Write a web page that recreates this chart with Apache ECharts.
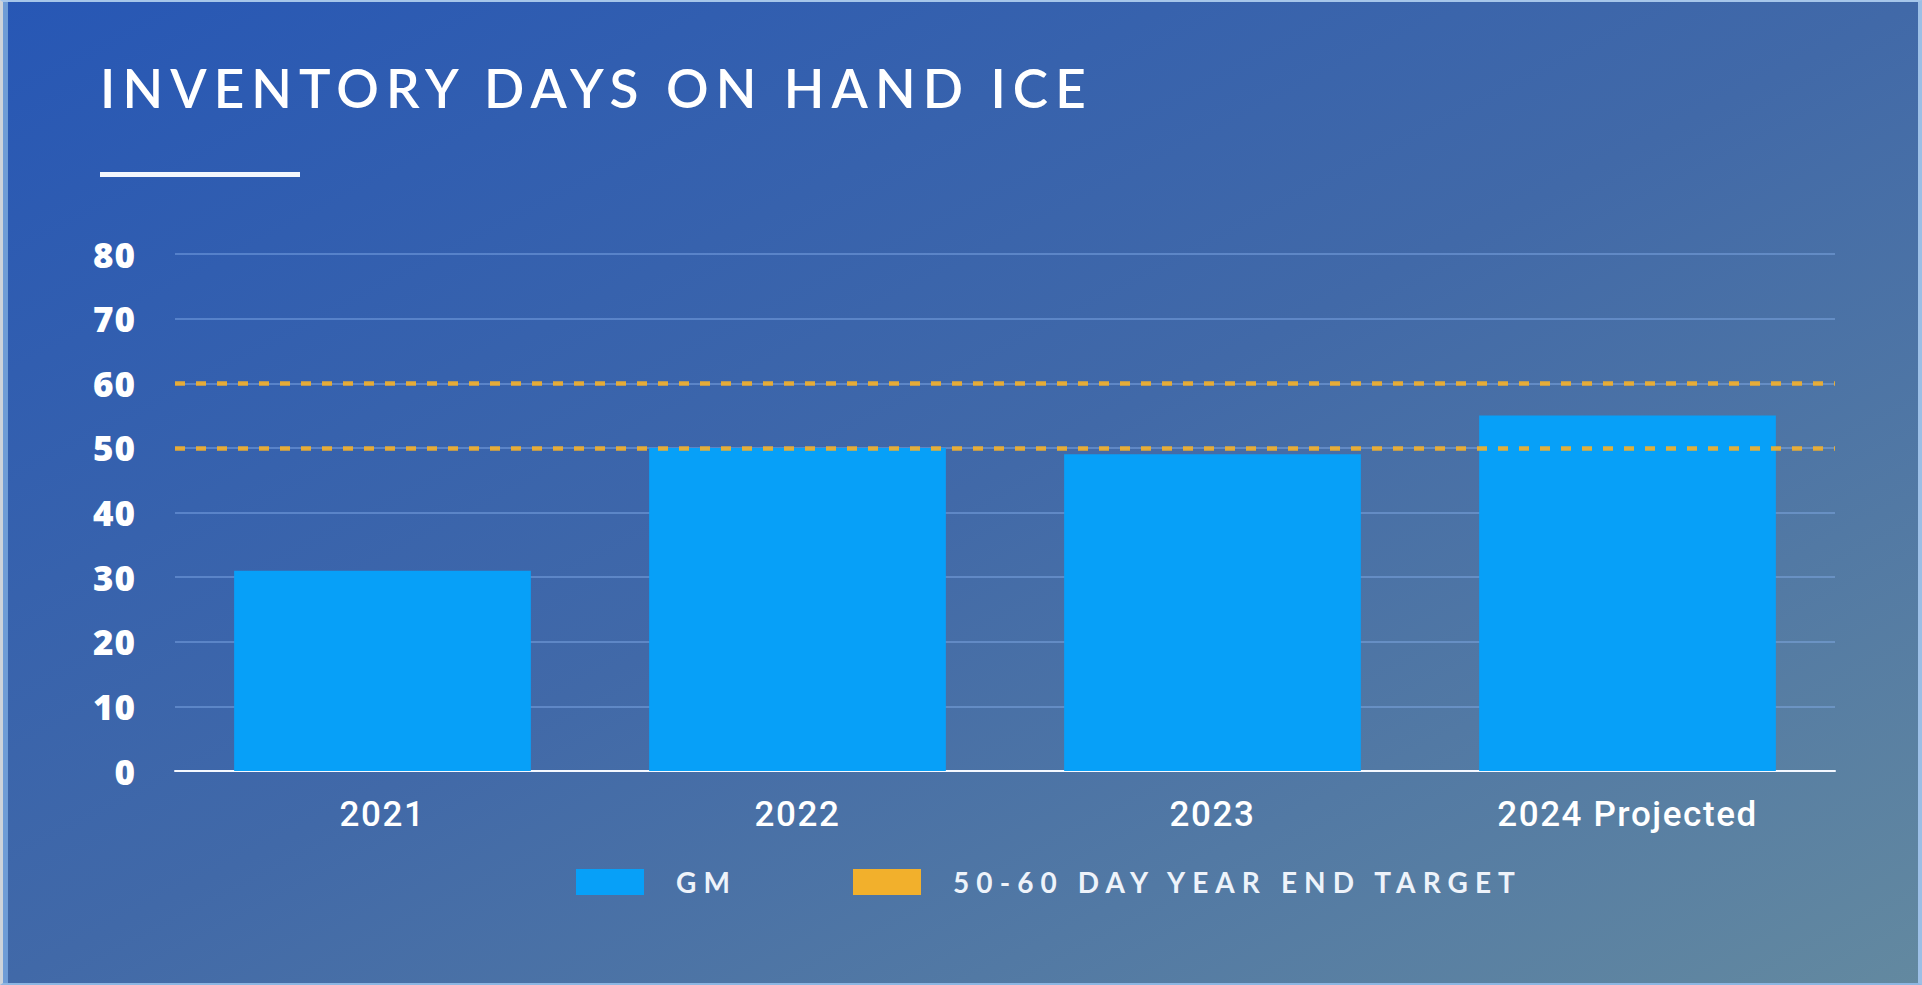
<!DOCTYPE html>
<html>
<head>
<meta charset="utf-8">
<title>Inventory Days on Hand ICE</title>
<script src="https://cdn.jsdelivr.net/npm/echarts@6.0.0/dist/echarts.min.js"></script>
<style>
  html, body { margin: 0; padding: 0; background: #cfd5dc; overflow: hidden; }
  #chart { position: absolute; left: 0; top: 0; width: 1922px; height: 985px; }
  #frame {
    position: absolute; left: 0; top: 0; width: 1922px; height: 985px;
    box-sizing: border-box; pointer-events: none;
    border-left: 3px solid #cdd3da;
    border-top: 2px solid #a6c6ea;
    border-right: 4px solid #9cbfe6;
    border-bottom: 2px solid #8cb6e2;
    box-shadow: inset 5px 0 0 #6e9cd6;
  }
</style>
</head>
<body>
<div id="chart"></div>
<div id="frame"></div>
<script>
// Chart content
const chartTitle = 'INVENTORY DAYS ON HAND ICE';
const categories = ['2021', '2022', '2023', '2024 Projected'];
const gmDays = [31, 50, 49, 55];
const gmName = 'GM';
const targetName = '50-60 DAY YEAR END TARGET';
const targetRange = [50, 60];
const yMin = 0, yMax = 80, yStep = 10;

const WHITE = '#ffffff';
const BAR_BLUE = '#07a0f8';
const TARGET_ORANGE = '#f2b02c';

const chart = echarts.init(document.getElementById('chart'), null, { renderer: 'svg' });

const legendText = {
  color: '#eef3fa',
  fontFamily: 'Lato',
  fontSize: 28,
  fontWeight: 'bold',
  padding: [0, 0, 0, 27]
};

chart.setOption({
  backgroundColor: new echarts.graphic.LinearGradient(0, 0, 1, 1, [
    { offset: 0, color: '#2757b5' },
    { offset: 0.5, color: '#4169a8' },
    { offset: 1, color: '#6389a0' }
  ]),
  animation: false,
  title: {
    text: chartTitle,
    left: 95,
    top: 56,
    textStyle: { color: WHITE, fontFamily: 'Lato', fontSize: 53, fontWeight: 600 }
  },
  graphic: [{
    type: 'rect',
    left: 100,
    top: 172,
    shape: { width: 200, height: 5 },
    style: { fill: '#f3f7fd' }
  }],
  legend: [
    {
      data: [gmName],
      left: 571, top: 863,
      icon: 'rect', itemWidth: 68, itemHeight: 26,
      textStyle: legendText
    },
    {
      data: [targetName],
      left: 848, top: 863,
      icon: 'rect', itemWidth: 68, itemHeight: 26,
      textStyle: legendText
    }
  ],
  grid: { left: 175, right: 87, top: 254, bottom: 214, containLabel: false },
  xAxis: {
    type: 'category',
    data: categories,
    axisTick: { show: false },
    axisLine: { lineStyle: { color: '#f4f8ff', width: 2 } },
    axisLabel: {
      color: WHITE, fontFamily: 'Roboto', fontWeight: 500, fontSize: 35, margin: 26
    }
  },
  yAxis: {
    type: 'value',
    min: yMin, max: yMax, interval: yStep,
    axisLine: { show: false },
    axisTick: { show: false },
    splitLine: { lineStyle: { color: 'rgba(140,180,240,0.55)', width: 1.5 } },
    axisLabel: {
      color: WHITE, fontFamily: 'Open Sans', fontWeight: 800, fontSize: 35, margin: 39
    }
  },
  series: [
    {
      name: gmName,
      type: 'bar',
      data: gmDays,
      barWidth: '71.5%',
      itemStyle: { color: BAR_BLUE },
      z: 2
    },
    {
      name: targetName,
      type: 'line',
      data: [],
      symbol: 'none',
      itemStyle: { color: TARGET_ORANGE },
      lineStyle: { color: TARGET_ORANGE },
      z: 3,
      markLine: {
        silent: true,
        symbol: ['none', 'none'],
        label: { show: false },
        lineStyle: { color: TARGET_ORANGE, type: [10, 11], width: 4.5, opacity: 0.92 },
        data: targetRange.map(v => ({ yAxis: v }))
      }
    }
  ]
});

// Wide tracking on the heading, legend captions, category names and tick values
const tickLabels = [];
for (let v = yMin; v <= yMax; v += yStep) tickLabels.push(String(v));
function applyTracking() {
  document.querySelectorAll('#chart text').forEach(t => {
    const s = t.textContent;
    if (s === chartTitle) t.style.letterSpacing = '7.1px';
    else if (s === gmName || s === targetName) t.style.letterSpacing = '7.1px';
    else if (categories.includes(s)) t.style.letterSpacing = '1.6px';
    else if (tickLabels.includes(s)) t.style.letterSpacing = '1px';
  });
}
chart.on('finished', applyTracking);
applyTracking();
</script>
</body>
</html>
